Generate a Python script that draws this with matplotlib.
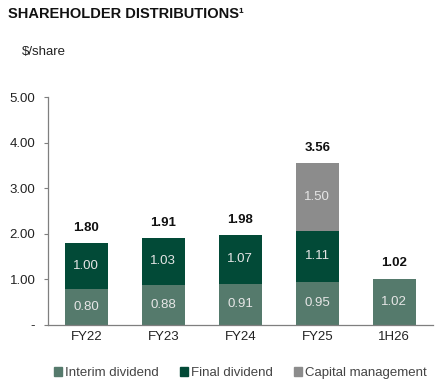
import numpy as np
import matplotlib.pyplot as plt
from matplotlib.patches import Patch

plt.rcParams['font.family'] = ['Liberation Sans', 'DejaVu Sans']

periods = ['FY22', 'FY23', 'FY24', 'FY25', '1H26']
interim = [0.80, 0.88, 0.91, 0.95, 1.02]
final = [1.00, 1.03, 1.07, 1.11, 0.0]
capital = [0.0, 0.0, 0.0, 1.50, 0.0]
totals = ['1.80', '1.91', '1.98', '3.56', '1.02']

c_int = '#557a6c'
c_fin = '#024a37'
c_cap = '#8c8c8c'

fig = plt.figure(figsize=(4.43, 3.89), dpi=100)
ax = fig.add_axes([0.108, 0.1645, 0.869, 0.586])

x = np.arange(len(periods))
w = 0.56
interim = np.array(interim)
final = np.array(final)
capital = np.array(capital)

ax.bar(x, interim, w, color=c_int, zorder=2)
ax.bar(x, final, w, bottom=interim, color=c_fin, zorder=2)
ax.bar(x, capital, w, bottom=interim + final, color=c_cap, zorder=2)

lab_col = '#e6e6e6'
for i in range(len(x)):
    ax.text(x[i], interim[i] / 2, f'{interim[i]:.2f}', ha='center', va='center',
            color=lab_col, fontsize=9.5)
    if final[i] > 0:
        ax.text(x[i], interim[i] + final[i] / 2, f'{final[i]:.2f}', ha='center',
                va='center', color=lab_col, fontsize=9.5)
    if capital[i] > 0:
        ax.text(x[i], interim[i] + final[i] + capital[i] / 2, f'{capital[i]:.2f}',
                ha='center', va='center', color=lab_col, fontsize=9.5)
    top = interim[i] + final[i] + capital[i]
    ax.text(x[i], top + 0.2, totals[i], ha='center', va='bottom',
            fontsize=9.5, fontweight='bold', color='#111111')

ax.set_xlim(-0.5, 4.5)
ax.set_ylim(0, 5)
ax.set_yticks([0, 1, 2, 3, 4, 5])
ax.set_yticklabels(['-', '1.00', '2.00', '3.00', '4.00', '5.00'])
ax.set_xticks(x)
ax.set_xticklabels(periods)
ax.tick_params(axis='y', length=3, width=0.8, color='#7f7f7f', labelsize=9.5,
               labelcolor='#222222', pad=6)
ax.tick_params(axis='x', length=0, labelsize=9.5, labelcolor='#222222', pad=4)
for s in ['top', 'right']:
    ax.spines[s].set_visible(False)
for s in ['left', 'bottom']:
    ax.spines[s].set_color('#7f7f7f')
    ax.spines[s].set_linewidth(0.9)

fig.text(0.018, 0.965, 'SHAREHOLDER DISTRIBUTIONS\u00b9', fontsize=10.5, fontweight='bold',
         va='center', ha='left', color='#111111')
fig.text(0.05, 0.867, '$/share', fontsize=9.5, va='center', ha='left', color='#222222')

handles = [Patch(color=c_int), Patch(color=c_fin), Patch(color=c_cap)]
fig.legend(handles, ['Interim dividend', 'Final dividend', 'Capital management'],
           loc='center', bbox_to_anchor=(0.543, 0.041), ncol=3, frameon=False,
           fontsize=9.5, handlelength=0.6, handleheight=0.6, handletextpad=0.25,
           columnspacing=1.6, labelcolor='#444444')

fig.savefig('out.png', dpi=100)
